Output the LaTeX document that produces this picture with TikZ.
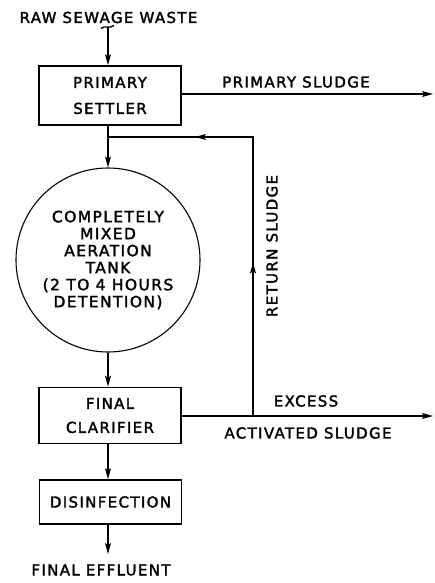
\documentclass[tikz,border=0pt]{standalone}
\usepackage{fontspec}
\setmainfont{DejaVu Sans}[LetterSpace=9, FakeBold=2]
\usepackage{tikz}
\usetikzlibrary{arrows.meta,calc}

\tikzset{
  unit/.style={draw, line width=1.6pt, minimum width=142pt, align=center, inner sep=0pt},
  flow/.style={line width=1.5pt},
  lbl/.style={font=\fontsize{15}{15}\selectfont, inner sep=0pt, align=center}
}

\begin{document}
\begin{tikzpicture}[x=1pt, y=-1pt, >={Stealth[length=11pt,width=6pt,inset=2.5pt]}]
      \useasboundingbox (0,0) rectangle (434,583);

      % Process units
      \node[unit, minimum height=59pt, font=\fontsize{15}{26}\selectfont] (settler) at (110,95.5)
        {PRIMARY\\SETTLER};
      \node[draw, circle, line width=1.1pt, minimum size=184pt, inner sep=0pt, align=center,
            font=\fontsize{15.5}{17}\selectfont] (tank) at (108,260)
        {COMPLETELY\\MIXED\\AERATION\\TANK\\(2 TO 4 HOURS\\DETENTION)};
      \node[unit, minimum height=56pt, font=\fontsize{15}{24}\selectfont] (clarifier) at (110,415.5)
        {FINAL\\CLARIFIER};
      \node[unit, minimum height=44pt, font=\fontsize{15}{15}\selectfont] (disinf) at (110.5,502)
        {DISINFECTION};

      % Inlet and outlet labels
      \node[lbl] (raw) at (108.5,17.5) {RAW SEWAGE WASTE};
      \node[lbl] (eff) at (101,570) {FINAL EFFLUENT};

      % Junctions of the sludge lines
      \coordinate (join) at (108,137);
      \coordinate (corner) at (253,137);
      \coordinate (split) at (253,416);
      \coordinate (psend) at (433,94);
      \coordinate (exend) at (433,416);
      \coordinate (rawtop) at (108,27);
      \coordinate (effend) at (108,554);

      % Main line
      \draw[line width=1.4pt] (101,28.5) .. controls (104,25) and (110,29) .. (114,25.5);
      \draw[flow, ->] (rawtop) -- (settler.north -| rawtop);
      \draw[flow] (settler.south -| join) -- (join);
      \draw[flow, ->] (join) -- (tank.north);
      \draw[flow, ->] (tank.south) -- (clarifier.north -| tank.south);
      \draw[flow, ->] (clarifier.south -| tank.south) -- (disinf.north -| tank.south);
      \draw[flow, ->] (disinf.south -| tank.south) -- (effend);

      % Primary sludge
      \draw[flow, ->] (settler.east |- psend) -- (psend);
      \node[lbl] (pslbl) at (296,82) {PRIMARY SLUDGE};

      % Excess activated sludge
      \draw[flow, ->] (clarifier.east |- split) -- (exend);
      \node[lbl] (exlbl) at (306,401) {EXCESS};
      \node[lbl] (aslbl) at (308,433) {ACTIVATED SLUDGE};

      % Return sludge loop
      \draw[flow, ->] (split) -- ($(split)!0.55!(corner)$);
      \draw[flow] ($(split)!0.5!(corner)$) -- (corner) -- ($(corner)!0.38!(join)$);
      \draw[flow, ->] (corner) -- ($(corner)!0.40!(join)$);
      \draw[flow] ($(corner)!0.35!(join)$) -- (join);
      \node[lbl, rotate=90] (rslbl) at (272,246) {RETURN SLUDGE};
    \end{tikzpicture}
\end{document}
